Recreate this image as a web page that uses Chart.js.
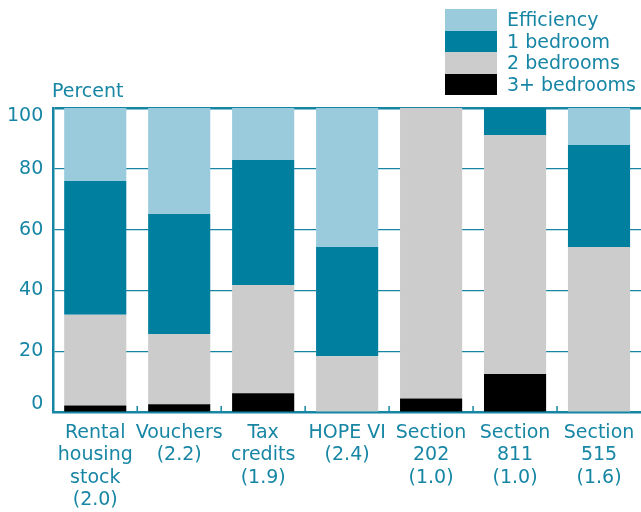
<!DOCTYPE html>
<html>
<head>
<meta charset="utf-8">
<script src="https://cdn.jsdelivr.net/npm/chart.js@4/dist/chart.umd.min.js"></script>
<style>
  body { margin: 0; background: #fff; font-family: "DejaVu Sans", sans-serif; }
  #wrap { position: relative; width: 641px; height: 512px; }
  #unit { position: absolute; left: 52px; top: 79px; font-size: 19px; color: #1786a5; }
  #legend { position: absolute; left: 445px; top: 9px; }
  .row { display: flex; align-items: center; height: 21.5px; }
  .sw { width: 52px; height: 21.5px; margin-right: 10px; }
  .lb { font-size: 19px; color: #1786a5; line-height: 21px; }
</style>
</head>
<body>
<div id="wrap">
  <canvas id="c" width="641" height="512"></canvas>
  <div id="unit">Percent</div>
  <div id="legend"></div>
</div>
<script>
const categories = [
  ['Rental', 'housing', 'stock', '(2.0)'],
  ['Vouchers', '(2.2)'],
  ['Tax', 'credits', '(1.9)'],
  ['HOPE VI', '(2.4)'],
  ['Section', '202', '(1.0)'],
  ['Section', '811', '(1.0)'],
  ['Section', '515', '(1.6)']
];

// share of units by size, percent (bottom to top)
const threePlus   = [2.2, 2.6, 6.2, 0, 4.5, 12.5, 0];
const twoBed      = [29.8, 23.1, 35.6, 18.4, 95.5, 78.6, 54.3];
const oneBed      = [44.0, 39.4, 41.1, 35.9, 0, 8.9, 33.5];
const efficiency  = [24.0, 34.9, 17.1, 45.7, 0, 0, 12.2];

const yTicks = [0, 20, 40, 60, 80, 100];

const TEAL = '#1786a5';
const FONT = 'DejaVu Sans';
const colors = {
  efficiency: '#99cbdd',
  oneBed: '#007f9f',
  twoBed: '#cccccc',
  threePlus: '#000000'
};

// legend (top row first)
const legendItems = [
  ['Efficiency', colors.efficiency],
  ['1 bedroom', colors.oneBed],
  ['2 bedrooms', colors.twoBed],
  ['3+ bedrooms', colors.threePlus]
];
document.getElementById('legend').innerHTML = legendItems.map(it =>
  `<div class="row"><div class="sw" style="background:${it[1]}"></div><div class="lb">${it[0]}</div></div>`
).join('');

const bar = (label, data, color) => ({
  label: label, data: data, backgroundColor: color,
  barPercentage: 0.74, categoryPercentage: 1, borderWidth: 0
});

// small marks between categories on the base line
const divTicks = {
  id: 'divTicks',
  afterDraw(chart) {
    const x = chart.scales.x, ctx = chart.ctx, y0 = chart.chartArea.bottom;
    ctx.save();
    ctx.strokeStyle = TEAL;
    ctx.lineWidth = 1.5;
    for (let i = 1; i < categories.length; i++) {
      const px = (x.getPixelForTick(i - 1) + x.getPixelForTick(i)) / 2;
      ctx.beginPath();
      ctx.moveTo(px, y0);
      ctx.lineTo(px, y0 - 6);
      ctx.stroke();
    }
    ctx.restore();
  }
};

new Chart(document.getElementById('c'), {
  type: 'bar',
  data: {
    labels: categories,
    datasets: [
      bar('3+ bedrooms', threePlus, colors.threePlus),
      bar('2 bedrooms', twoBed, colors.twoBed),
      bar('1 bedroom', oneBed, colors.oneBed),
      bar('Efficiency', efficiency, colors.efficiency)
    ]
  },
  plugins: [divTicks],
  options: {
    responsive: false,
    animation: false,
    layout: { padding: { top: 108, right: 0, left: -3, bottom: -1 } },
    plugins: { legend: { display: false }, tooltip: { enabled: false } },
    scales: {
      x: {
        stacked: true,
        grid: { display: false },
        border: { color: TEAL, width: 2.5 },
        ticks: {
          color: TEAL, padding: 2, maxRotation: 0, autoSkip: false,
          font: { family: FONT, size: 19, lineHeight: 1.17 }
        }
      },
      y: {
        stacked: true,
        min: 0, max: 100,
        afterBuildTicks: axis => { axis.ticks = yTicks.map(v => ({ value: v })); },
        grid: {
          drawTicks: false,
          color: ctx => ctx.tick && ctx.tick.value === 0 ? 'rgba(0,0,0,0)' : TEAL,
          lineWidth: ctx => ctx.tick && ctx.tick.value === 100 ? 2.5 : 1.3
        },
        border: { color: TEAL, width: 2.5 },
        ticks: {
          color: TEAL, padding: 10,
          // end labels sit a little inside the frame
          callback: v => v === 100 ? ['', '100'] : v === 0 ? ['0', ''] : String(v),
          font: { family: FONT, size: 19, lineHeight: 0.85 }
        }
      }
    }
  }
});
</script>
</body>
</html>
